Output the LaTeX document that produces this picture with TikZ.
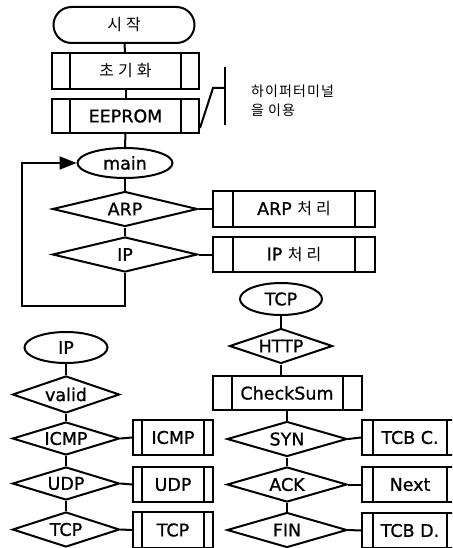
\documentclass[tikz,border=0pt]{standalone}
\usepackage{fontspec}
\setmainfont[FakeBold=0.9]{DejaVu Sans}
\newfontfamily\kor[LetterSpace=25]{Noto Sans CJK KR}
\newfontfamily\kornote[LetterSpace=8]{Noto Sans CJK KR}
\usetikzlibrary{arrows.meta,shapes.geometric}

\newcommand\hangul{\kor\fontsize{16}{19}\selectfont}

\begin{document}
\begin{tikzpicture}[x=1pt, y=-1pt,
    font=\fontsize{17.5}{20}\selectfont,
    line width=2pt,
    every node/.style={inner sep=0pt},
    term/.style={draw, rounded corners=18pt, minimum width=141pt, minimum height=36pt},
    oval/.style={draw, ellipse, minimum width=#1, minimum height=31pt},
    test/.style={draw, diamond, shape aspect=3, minimum width=#1, minimum height=35pt},
    subproc/.style 2 args={draw, rectangle, minimum width=#1, minimum height=35pt,
      path picture={
        \draw ([xshift=#2]path picture bounding box.north west) -- ([xshift=#2]path picture bounding box.south west);
        \draw ([xshift=-#2]path picture bounding box.north east) -- ([xshift=-#2]path picture bounding box.south east);
      }}
  ]
    \useasboundingbox (0,0) rectangle (452,548);
    \clip (0,0) rectangle (452,548);

    % main loop
    \node[term] (start) at (124,25) {\hangul 시작};
    \node[subproc={147pt}{18pt}, minimum height=36pt] (init) at (125.5,71) {\hangul 초기화};
    \node[subproc={147pt}{18pt}, minimum height=34pt] (eeprom) at (125.5,116) {EEPROM};
    \node[oval=95pt, minimum height=30pt] (main) at (125,163) {main};
    \node[test=145pt] (arp) at (125,209) {ARP};
    \node[test=145pt] (ip) at (125,254.5) {IP};
    \node[subproc={162pt}{20pt}, minimum height=36pt] (arpproc) at (294,209) {ARP {\hangul 처리}};
    \node[subproc={162pt}{20pt}] (ipproc) at (294,254.5) {IP {\hangul 처리}};
    \coordinate (loop) at (22,306);

    \draw (start) -- (init);
    \draw (init) -- (eeprom);
    \draw (eeprom) -- (main);
    \draw (main) -- (arp);
    \draw (arp) -- (ip);
    \draw (arp.east) -- (arpproc.west);
    \draw (ip.east) -- (ipproc.west);
    \draw[-{Triangle[length=17pt,width=13pt]}] (ip.south) |- (loop) |- (main.west);

    % note on the EEPROM box
    \coordinate (bend) at (213,88);
    \coordinate (bar) at (225,88);
    \draw ([yshift=6pt]eeprom.south east) -- (bend) -- (bar);
    \draw (225,67) -- (225,125);
    \node[align=left, anchor=west, font={\kornote\fontsize{14}{19}\selectfont}] (memo) at (250,101) {하이퍼터미널\\을 이용};

    % IP
    \node[oval=83pt] (ipfn) at (66,347.5) {IP};
    \node[test=107pt, minimum height=37pt] (valid) at (66,394.5) {valid};
    \node[test=107pt, minimum height=33pt] (icmp) at (66,438.5) {ICMP};
    \node[test=107pt, minimum height=33pt] (udp) at (66,483.5) {UDP};
    \node[test=107pt] (tcp) at (66,529.5) {TCP};
    \node[subproc={80pt}{9pt}] (icmpbox) at (173,437.5) {ICMP};
    \node[subproc={80pt}{9pt}] (udpbox) at (173,484.5) {UDP};
    \node[subproc={80pt}{9pt}, minimum height=36pt] (tcpbox) at (173,530) {TCP};

    \draw (ipfn) -- (valid);
    \draw (valid) -- (icmp);
    \draw (icmp) -- (udp);
    \draw (udp) -- (tcp);
    \draw (icmp.east) -- (icmpbox.west);
    \draw (udp.east) -- (udpbox.west);
    \draw (tcp.east) -- (tcpbox.west);

    % TCP
    \node[oval=82pt, minimum height=32pt] (tcpfn) at (281,299) {TCP};
    \node[test=103pt] (http) at (281,346) {HTTP};
    \node[subproc={149pt}{19pt}, minimum height=34pt] (checksum) at (287,393) {CheckSum};
    \node[test=120pt] (syn) at (287,439) {SYN};
    \node[test=120pt] (ack) at (287,484.5) {ACK};
    \node[test=120pt] (fin) at (287,530) {FIN};
    \node[subproc={96pt}{11pt}] (tcbc) at (410,437.5) {TCB C.};
    \node[subproc={96pt}{11pt}] (next) at (410,484.5) {Next};
    \node[subproc={96pt}{11pt}] (tcbd) at (410,530.5) {TCB D.};

    \draw (tcpfn) -- (http);
    \draw (http.south) -- (http.south |- checksum.north);
    \draw (checksum) -- (syn);
    \draw (syn) -- (ack);
    \draw (ack) -- (fin);
    \draw (syn.east) -- (tcbc.west);
    \draw (ack.east) -- (next.west);
    \draw (fin.east) -- (tcbd.west);
\end{tikzpicture}
\end{document}
